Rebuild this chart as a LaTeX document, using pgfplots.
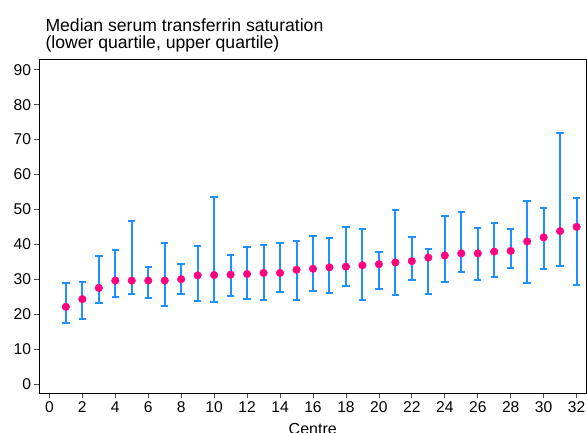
\documentclass[border=0pt]{standalone}
\usepackage{fontspec}
\setmainfont{Liberation Sans}
\usepackage{pgfplots}
\usepackage{pgfplotstable}
\pgfplotsset{compat=1.18}
\definecolor{barblue}{RGB}{30,144,255}
\definecolor{dotpink}{RGB}{255,0,128}
\pgfplotstableread{
x med lo hi
1 22.1 17.5 29.0
2 24.3 18.7 29.2
3 27.5 23.1 36.7
4 29.6 25.0 38.5
5 29.6 25.8 46.7
6 29.6 24.6 33.5
7 29.6 22.4 40.3
8 30.0 25.9 34.4
9 31.1 23.9 39.4
10 31.2 23.5 53.7
11 31.3 25.2 36.9
12 31.5 24.3 39.1
13 31.8 24.1 39.7
14 31.8 26.2 40.3
15 32.7 24.1 41.0
16 33.0 26.5 42.4
17 33.4 26.0 41.7
18 33.6 28.2 45.1
19 34.0 24.1 44.4
20 34.3 27.1 37.7
21 34.8 25.4 49.9
22 35.2 29.9 42.2
23 36.2 25.8 38.7
24 36.8 29.3 48.2
25 37.4 32.0 49.3
26 37.4 29.9 44.7
27 37.9 30.5 46.0
28 38.1 33.1 44.5
29 40.8 29.0 52.4
30 42.0 32.8 50.4
31 43.8 33.7 71.9
32 45.0 28.4 53.4
}\datatable
\begin{document}
\begin{tikzpicture}
\begin{axis}[
  scale only axis,
  width=546.5pt, height=334pt,
  at={(0,0)}, anchor=south west,
  xmin=-0.6, xmax=32.57,
  ymin=-2.6, ymax=93.1,
  xtick={0,2,...,32},
  ytick={0,10,...,90},
  tick align=outside,
  major tick length=5pt,
  xtick pos=bottom, ytick pos=left,
  axis line style={black, line width=0.8pt},
  tick style={black!70, line width=0.8pt},
  /pgf/number format/assume math mode=true,
  ticklabel style={font=\fontsize{15.6}{18}\selectfont},
  yticklabel style={xshift=0pt},
  xlabel={Centre},
  xlabel style={at={(axis description cs:0.5,0)}, anchor=base, yshift=-41.5pt, font=\fontsize{16}{18}\selectfont},
  clip=false,
]
\addplot[draw=none, mark=none,
  error bars/.cd, y dir=both, y explicit,
  error bar style={barblue, line width=2pt},
  error mark options={barblue, rotate=90, mark size=3.7pt, line width=2pt}]
  table[x=x, y=med, y error plus expr=\thisrow{hi}-\thisrow{med}, y error minus expr=\thisrow{med}-\thisrow{lo}] {\datatable};
\addplot[only marks, mark=*, mark size=3.8pt, mark options={fill=dotpink, draw=dotpink}]
  table[x=x, y=med] {\datatable};
\end{axis}
\node[anchor=base west, align=left, font=\fontsize{17.6}{17}\selectfont] at (2.5pt,27pt+334pt) {Median serum transferrin saturation};
\node[anchor=base west, align=left, font=\fontsize{17.6}{17}\selectfont] at (2.5pt,10pt+334pt) {(lower quartile, upper quartile)};
\pgfresetboundingbox
\path[use as bounding box] (-39.5pt,-39pt) rectangle (547.5pt,393pt);
\end{tikzpicture}
\end{document}
